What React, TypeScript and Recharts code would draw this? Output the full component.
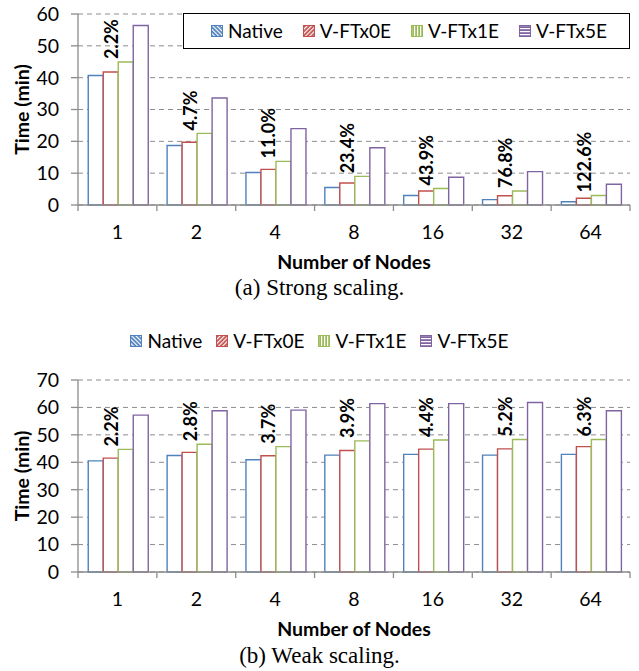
import React from 'react';
import { BarChart, Bar, XAxis, YAxis, CartesianGrid, Legend, LabelList, Label } from 'recharts';

const FONT = 'Lato, "Noto Sans", sans-serif';
const AXIS = '#8c8c8c';

const nodes = ['1', '2', '4', '8', '16', '32', '64'];
const seriesNames = ['Native', 'V-FTx0E', 'V-FTx1E', 'V-FTx5E'];
const seriesKeys = ['native', 'ft0', 'ft1', 'ft5'];
const colors = ['#4F81BD', '#C0504D', '#9BBB59', '#8064A2'];

// strong scaling (min)
const strongNative = [40.7, 18.7, 10.2, 5.5, 3.0, 1.7, 1.0];
const strongFTx0E = [41.8, 19.7, 11.2, 6.9, 4.4, 2.9, 2.1];
const strongFTx1E = [44.9, 22.5, 13.7, 9.0, 5.2, 4.4, 3.0];
const strongFTx5E = [56.4, 33.6, 24.0, 18.0, 8.7, 10.5, 6.5];
const strongOverhead = ['2.2%', '4.7%', '11.0%', '23.4%', '43.9%', '76.8%', '122.6%'];
const strongTicks = [0, 10, 20, 30, 40, 50, 60];

// weak scaling (min)
const weakNative = [40.5, 42.5, 40.9, 42.6, 42.9, 42.6, 42.9];
const weakFTx0E = [41.5, 43.6, 42.4, 44.3, 44.8, 44.9, 45.7];
const weakFTx1E = [44.7, 46.6, 45.7, 47.8, 48.1, 48.3, 48.3];
const weakFTx5E = [57.2, 58.8, 59.0, 61.4, 61.4, 61.8, 58.8];
const weakOverhead = ['2.2%', '2.8%', '3.7%', '3.9%', '4.4%', '5.2%', '6.3%'];
const weakTicks = [0, 10, 20, 30, 40, 50, 60, 70];

const buildRows = (a: number[], b: number[], c: number[], d: number[], pct: string[]) =>
  nodes.map((node, i) => ({ node, native: a[i], ft0: b[i], ft1: c[i], ft5: d[i], pct: pct[i] }));

const strongData = buildRows(strongNative, strongFTx0E, strongFTx1E, strongFTx5E, strongOverhead);
const weakData = buildRows(weakNative, weakFTx0E, weakFTx1E, weakFTx5E, weakOverhead);

// x tick: label at band centre, tick marks at band edges
const NodeTick = (props: any) => {
  const { x, y, payload, index, visibleTicksCount, width } = props;
  const band = width / visibleTicksCount;
  return (
    <g>
      <line x1={x - band / 2} x2={x - band / 2} y1={y} y2={y + 6} stroke={AXIS} strokeWidth={1.3} />
      {index === visibleTicksCount - 1 && (
        <line x1={x + band / 2} x2={x + band / 2} y1={y} y2={y + 6} stroke={AXIS} strokeWidth={1.3} />
      )}
      <text x={x} y={y + 34} textAnchor="middle" fontSize={19.5} fill="#000">
        {payload.value}
      </text>
    </g>
  );
};

// overhead label, centred over the V-FTx0E bar, sitting on top of V-FTx1E
const renderPct = (props: any) => {
  const { x, y, width, value } = props;
  const cx = Number(x) - Number(width) / 2;
  const by = Number(y) - 3;
  return (
    <text
      transform={`translate(${cx},${by}) rotate(-90)`}
      textAnchor="start"
      dominantBaseline="central"
      fontSize={18}
      fontWeight="bold"
      fill="#000"
    >
      {value}
    </text>
  );
};

const rotations = [-45, 45, 0, 90];

const makeLegend = (prefix: string, gap: number) => (props: any) => {
  const { payload = [] } = props;
  return (
    <div style={{ display: 'flex', alignItems: 'center', height: '100%', fontFamily: FONT, fontSize: 19, color: '#000', justifyContent: prefix === 'a' ? 'flex-start' : 'center', paddingLeft: prefix === 'a' ? 27 : 0, boxSizing: 'border-box' }}>
      {payload.map((p: any, i: number) => (
        <div key={p.value} style={{ display: 'flex', alignItems: 'center', marginRight: i < payload.length - 1 ? gap : 0 }}>
          <svg width={12} height={12} style={{ display: 'block' }}>
            <defs>
              <pattern id={`${prefix}-pat-${i}`} patternUnits="userSpaceOnUse" width={3} height={3} patternTransform={`rotate(${rotations[i]})`}>
                <rect width={3} height={3} fill={colors[i]} />
                <rect width={1.2} height={3} fill="#fff" />
              </pattern>
            </defs>
            <rect x={0.5} y={0.5} width={11} height={11} fill={`url(#${prefix}-pat-${i})`} stroke={colors[i]} strokeWidth={1} />
          </svg>
          <span style={{ marginLeft: 5, lineHeight: '22px' }}>{p.value}</span>
        </div>
      ))}
    </div>
  );
};

const yTitle = (
  <Label value="Time (min)" angle={-90} position="center" dx={-17} fontSize={19.5} fontWeight="bold" fill="#000" />
);
const xTitle = (
  <Label value="Number of Nodes" position="insideBottom" offset={6} fontSize={19.5} fontWeight="bold" fill="#000" />
);

const ScalingChart = ({ data, ticks, height, top, prefix, legendStyle, legendGap }: any) => (
  <BarChart
    width={639}
    height={height}
    data={data}
    margin={{ top, right: 9, left: 0, bottom: 0 }}
    barCategoryGap="13%"
    barGap={0}
    style={{ fontFamily: FONT }}
  >
    <CartesianGrid vertical={false} stroke={AXIS} strokeDasharray="5 4" />
    <XAxis
      dataKey="node"
      interval={0}
      height={70}
      tickLine={false}
      tickSize={0}
      tickMargin={0}
      axisLine={{ stroke: AXIS, strokeWidth: 1.3 }}
      tick={<NodeTick />}
    >
      {xTitle}
    </XAxis>
    <YAxis
      width={78}
      domain={[ticks[0], ticks[ticks.length - 1]]}
      ticks={ticks}
      interval={0}
      tickSize={7}
      tickMargin={12}
      tick={{ fontSize: 19.5, fill: '#000' }}
      axisLine={{ stroke: AXIS, strokeWidth: 1.3 }}
      tickLine={{ stroke: AXIS, strokeWidth: 1.3 }}
    >
      {yTitle}
    </YAxis>
    <Legend
      layout="horizontal"
      verticalAlign="middle"
      align="center"
      wrapperStyle={legendStyle}
      content={makeLegend(prefix, legendGap)}
    />
    {seriesKeys.map((key, i) => (
      <Bar
        key={key}
        dataKey={key}
        name={seriesNames[i]}
        fill="#fff"
        stroke={colors[i]}
        strokeWidth={1.4}
        isAnimationActive={false}
      >
        {key === 'ft1' && <LabelList dataKey="pct" content={renderPct} />}
      </Bar>
    ))}
  </BarChart>
);

const captionStyle: React.CSSProperties = {
  position: 'absolute',
  left: 0,
  width: 639,
  textAlign: 'center',
  fontFamily: '"Liberation Serif", serif',
  fontSize: 23,
  lineHeight: '26px',
  color: '#000',
};

export default function App() {
  return (
    <div style={{ position: 'absolute', left: 0, top: 0, width: 639, height: 671, background: '#fff' }}>
      <div style={{ position: 'absolute', left: 0, top: 0 }}>
        <ScalingChart
          data={strongData}
          ticks={strongTicks}
          height={275}
          top={14}
          prefix="a"
          legendGap={20}
          legendStyle={{ left: 183, top: 13, width: 447, height: 36, border: '1.5px solid #000', background: '#fff', boxSizing: 'border-box' }}
        />
      </div>
      <div style={{ ...captionStyle, top: 275 }}>(a) Strong scaling.</div>
      <div style={{ position: 'absolute', left: 0, top: 300 }}>
        <ScalingChart
          data={weakData}
          ticks={weakTicks}
          height={342}
          top={80}
          prefix="b"
          legendGap={14}
          legendStyle={{ left: 0, top: 30, width: 639, height: 22 }}
        />
      </div>
      <div style={{ ...captionStyle, top: 643 }}>(b) Weak scaling.</div>
    </div>
  );
}
